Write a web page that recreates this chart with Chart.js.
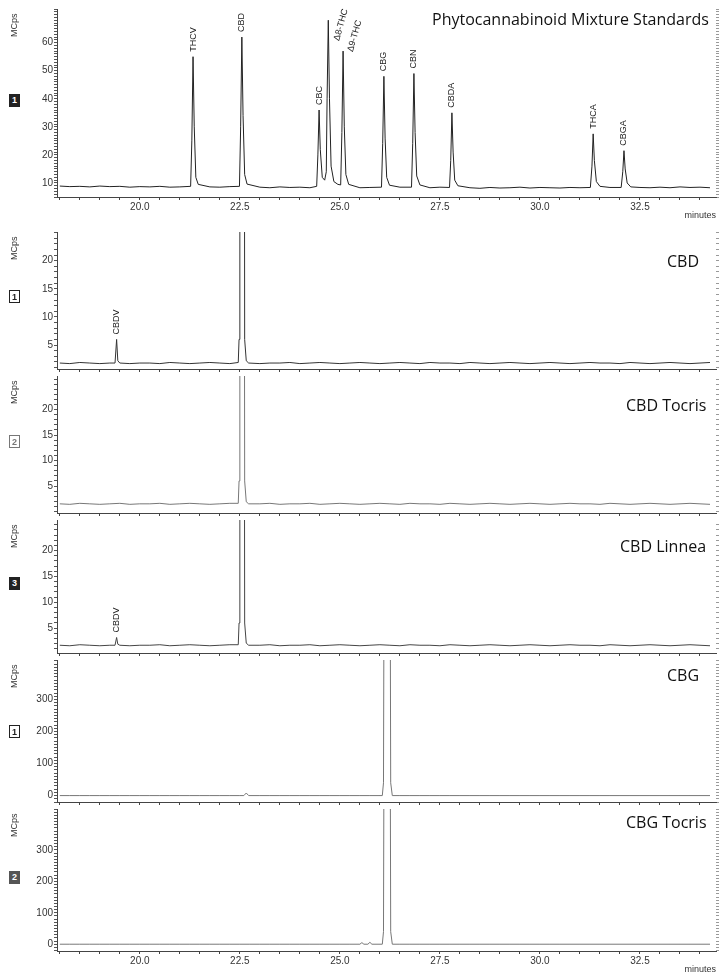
<!DOCTYPE html>
<html><head><meta charset="utf-8">
<script src="https://cdn.jsdelivr.net/npm/chart.js@4.4.0/dist/chart.umd.min.js"></script>
<style>
body{margin:0;background:#fff;width:724px;height:976px;position:relative;overflow:hidden;font-family:"Liberation Sans",Arial,sans-serif}
.p{position:absolute;left:0;width:724px}
.t{position:absolute;font-family:"Open Sans",sans-serif;font-size:16px;color:#111;white-space:nowrap}
.m{position:absolute;left:9px;font-size:9px;color:#333;transform:rotate(-90deg);transform-origin:left top}
.b{position:absolute;left:9px;width:11px;height:13px;font-size:9px;line-height:13px;text-align:center;box-sizing:border-box;font-weight:bold}
</style></head><body>
<script>
// ---- data ----
const baseTimes = []; for (let i = 0; i < 66; i++) baseTimes.push(18 + i * 0.25);
const mixBase = [8.9,8.7,8.8,8.6,8.9,8.7,8.8,8.5,8.7,8.6,8.8,8.5,8.6,8.7,8.4,8.6,8.5,8.7,8.4,8.6,8.5,8.3,8.6,8.4,8.5,8.3,8.6,8.4,8.2,8.5,8.3,8.4,8.6,8.3,8.5,8.2,8.4,8.3,8.5,8.2,8.4,8.3,8.1,8.4,8.2,8.3,8.5,8.2,8.4,8.3,8.2,8.4,8.3,8.5,8.2,8.4,8.3,8.6,8.4,8.3,8.5,8.3,8.6,8.4,8.5,8.3];
const mixPeaks = [[21.27,8.8],[21.30,25],[21.33,55],[21.36,30],[21.40,12],[21.46,9.5],
 [22.49,8.8],[22.52,30],[22.55,62],[22.58,34],[22.62,13],[22.68,9.6],
 [24.42,8.8],[24.45,20],[24.48,36],[24.51,22],[24.56,12],[24.62,11],
 [24.66,14],[24.68,40],[24.71,68],[24.74,40],[24.78,16],[24.85,10.5],[24.95,9.5],
 [25.02,9.3],[25.05,28],[25.08,57],[25.11,30],[25.15,13],[25.22,9.5],
 [26.04,8.5],[26.07,24],[26.10,48],[26.13,26],[26.17,12],[26.24,9.2],
 [26.79,8.5],[26.82,24],[26.85,49],[26.88,28],[26.92,12.5],[27.00,9.3],
 [27.74,8.4],[27.77,18],[27.80,35],[27.83,21],[27.87,11],[27.95,9],
 [31.26,8.4],[31.30,16],[31.33,27.5],[31.36,18],[31.41,10.5],[31.50,8.8],
 [32.03,8.4],[32.07,14],[32.10,21.5],[32.13,15],[32.18,10],[32.27,8.6]];
const mixLabels = [["THCV",21.33,55],["CBD",22.55,62],["CBC",24.48,36],["Δ8-THC",24.92,59],["Δ9-THC",25.26,55],["CBG",26.10,48],["CBN",26.85,49],["CBDA",27.80,35],["THCA",31.33,27.5],["CBGA",32.10,21.5]];

const cbdBase = [1.8,1.7,1.9,1.8,1.7,1.8,1.9,1.7,1.8,1.8,1.7,1.9,1.8,1.7,1.8,1.9,1.8,1.7,1.8,1.9,1.7,1.8,1.8,1.9,1.7,1.8,1.9,1.8,1.7,1.8,1.9,1.8,1.7,1.8,1.9,1.8,1.7,1.9,1.8,1.8,1.7,1.9,1.8,1.7,1.8,1.9,1.8,1.7,1.8,1.9,1.8,1.7,1.8,1.9,1.8,1.8,1.7,1.9,1.8,1.7,1.8,1.9,1.8,1.7,1.8,1.9];
const cbdPeaks = [[19.38,1.8],[19.42,6],[19.45,2.2],[19.50,1.8],[22.46,1.9],[22.48,6],[22.50,150],[22.55,600],[22.60,150],[22.62,6],[22.66,2.2],[22.72,1.8]];
const tocBase = [1.5,1.4,1.6,1.5,1.4,1.5,1.6,1.4,1.5,1.5,1.6,1.4,1.5,1.6,1.5,1.4,1.5,1.6,1.5,1.4,1.5,1.6,1.4,1.5,1.5,1.6,1.4,1.5,1.6,1.5,1.4,1.5,1.6,1.5,1.4,1.6,1.5,1.5,1.4,1.6,1.5,1.4,1.5,1.6,1.5,1.4,1.5,1.6,1.5,1.4,1.5,1.6,1.5,1.5,1.4,1.6,1.5,1.4,1.5,1.6,1.5,1.4,1.5,1.6,1.5,1.4];
const tocPeaks = [[22.46,1.6],[22.48,6],[22.50,150],[22.55,600],[22.60,150],[22.62,6],[22.66,1.9],[22.72,1.5]];
const linBase = [1.7,1.6,1.8,1.7,1.6,1.7,1.8,1.6,1.7,1.7,1.8,1.6,1.7,1.8,1.7,1.6,1.7,1.8,1.7,1.6,1.7,1.8,1.6,1.7,1.7,1.8,1.6,1.7,1.8,1.7,1.6,1.7,1.8,1.7,1.6,1.8,1.7,1.7,1.6,1.8,1.7,1.6,1.7,1.8,1.7,1.6,1.7,1.8,1.7,1.6,1.7,1.8,1.7,1.7,1.6,1.8,1.7,1.6,1.7,1.8,1.7,1.6,1.7,1.8,1.7,1.6];
const linPeaks = [[19.38,1.7],[19.42,3.2],[19.45,1.9],[19.50,1.7],[22.46,1.8],[22.48,6],[22.50,150],[22.55,600],[22.60,150],[22.62,6],[22.66,2.1],[22.72,1.7]];
const cbgBase = [0,0,0,0,0,0,0,0,0,0,0,0,0,0,0,0,0,0,0,0,0,0,0,0,0,0,0,0,0,0,0,0,0,0,0,0,0,0,0,0,0,0,0,0,0,0,0,0,0,0,0,0,0,0,0,0,0,0,0,0,0,0,0,0,0,0];
const cbgPeaks = [[22.60,0],[22.66,8],[22.72,0],[26.06,0],[26.09,40],[26.12,1500],[26.18,3000],[26.24,1500],[26.27,40],[26.31,0]];
const cbgtPeaks = [[25.50,0],[25.55,5],[25.60,0],[25.70,0],[25.75,6],[25.80,0],[26.06,0],[26.09,40],[26.12,1500],[26.18,3000],[26.24,1500],[26.27,40],[26.31,0]];
const xTicks = [20.0,22.5,25.0,27.5,30.0,32.5];
const yTicksMix = [10,20,30,40,50,60];
const yTicksCbd = [5,10,15,20];
const yTicksCbg = [0,100,200,300];

function merge(base, peaks){
  const pts = [];
  baseTimes.forEach((t,i)=>{ if(!peaks.some(p=>Math.abs(p[0]-t)<0.1)) pts.push({x:t,y:base[i]}); });
  peaks.forEach(p=>pts.push({x:p[0],y:p[1]}));
  return pts.sort((a,b)=>a.x-b.x);
}

const panels = [
 {top:5,bot:197,min:5,max:72,step:1,yl:yTicksMix,data:merge(mixBase,mixPeaks),color:'#222',labels:true,title:'Phytocannabinoid Mixture Standards',tx:432,ty:8,badge:'1',bs:'fill',by:94,peakLabels:mixLabels},
 {top:228,bot:371,min:0.74,max:25.1,step:1,yl:yTicksCbd,data:merge(cbdBase,cbdPeaks),color:'#333',labels:false,title:'CBD',tx:667,ty:250,badge:'1',bs:'box',by:290,peakLabels:[["CBDV",19.42,6]]},
 {top:372,bot:515,min:-0.3,max:26.6,step:1,yl:yTicksCbd,data:merge(tocBase,tocPeaks),color:'#777',labels:false,title:'CBD Tocris',tx:626,ty:394,badge:'2',bs:'gbox',by:435,peakLabels:[]},
 {top:516,bot:655,min:0.2,max:25.9,step:1,yl:yTicksCbd,data:merge(linBase,linPeaks),color:'#444',labels:false,title:'CBD Linnea',tx:620,ty:535,badge:'3',bs:'fill',by:577,peakLabels:[["CBDV",19.42,3.2]]},
 {top:656,bot:804,min:-20,max:423,step:10,yl:yTicksCbg,data:merge(cbgBase,cbgPeaks),color:'#777',labels:false,title:'CBG',tx:667,ty:664,badge:'1',bs:'box',by:725,peakLabels:[]},
 {top:805,bot:951,min:-21.6,max:430,step:10,yl:yTicksCbg,data:merge(cbgBase,cbgtPeaks),color:'#777',labels:true,title:'CBG Tocris',tx:626,ty:811,badge:'2',bs:'gfill',by:871,peakLabels:[]}
];

const labelPlugin = {id:'pl',afterDatasetsDraw(c){
  const ctx=c.ctx, xs=c.scales.x, ys=c.scales.y;
  ctx.save(); ctx.font='9px "Liberation Sans", Arial'; ctx.fillStyle='#222'; ctx.textBaseline='middle';
  (c.options.plugins.pl.items||[]).forEach(([s,x,y])=>{
    const px=xs.getPixelForValue(x), py=ys.getPixelForValue(y)-5;
    ctx.save(); ctx.translate(px,py); ctx.rotate(s.startsWith('Δ')?-1.3:-Math.PI/2);
    ctx.textAlign='left'; ctx.fillText(s,0,0); ctx.restore();
  });
  if(c.options.plugins.pl.minutes){ctx.font='9px "Liberation Sans", Arial';ctx.textAlign='right';ctx.fillStyle='#333';ctx.fillText('minutes',716,c.chartArea.bottom+19);}
  ctx.restore();
}};

panels.forEach((p)=>{
  const xh = p.labels?28:5;
  const div=document.createElement('div'); div.className='p';
  div.style.top=(p.top-3)+'px'; div.style.height=(p.bot-p.top+3+xh)+'px';
  const cv=document.createElement('canvas'); div.appendChild(cv); document.body.appendChild(div);
  const yticks = s=>{const t=[];const st=Math.ceil(p.min/p.step)*p.step;for(let v=st;v<=p.max;v+=p.step)t.push({value:Math.round(v*100)/100});s.ticks=t;};
  new Chart(cv,{type:'line',data:{datasets:[{data:p.data,borderColor:p.color,borderWidth:1,pointRadius:0,tension:0}]},
   plugins:[labelPlugin],
   options:{responsive:true,maintainAspectRatio:false,animation:false,layout:{padding:{top:3,left:0,right:0,bottom:0}},
    plugins:{legend:{display:false},tooltip:{enabled:false},pl:{items:p.peakLabels,minutes:p.labels}},
    scales:{
     x:{type:'linear',min:17.93,max:34.4,afterFit:s=>{s.height=xh},
        afterBuildTicks:s=>{const t=[];for(let v=18;v<=34.4;v+=0.5)t.push({value:Math.round(v*10)/10});s.ticks=t;},
        grid:{drawOnChartArea:false,tickLength:3,color:'#444'},border:{color:'#444'},
        ticks:{display:p.labels,autoSkip:false,maxRotation:0,padding:1,color:'#333',font:{size:10,family:'"Liberation Sans", Arial'},
          callback:v=>xTicks.some(t=>Math.abs(t-v)<1e-6)?v.toFixed(1):''}},
     y:{min:p.min,max:p.max,afterFit:s=>{s.width=57},afterBuildTicks:yticks,
        grid:{drawOnChartArea:false,tickLength:3,color:'#555'},border:{color:'#444'},
        ticks:{autoSkip:false,padding:1,color:'#333',font:{size:10,family:'"Liberation Sans", Arial'},
          callback:v=>p.yl.some(t=>Math.abs(t-v)<1e-6)?String(v):''}},
     y2:{position:'right',min:p.min,max:p.max,afterFit:s=>{s.width=8},afterBuildTicks:yticks,
        grid:{drawOnChartArea:false,tickLength:3,color:'#999'},border:{display:false},ticks:{display:false}}
    }}});
  const t=document.createElement('div'); t.className='t'; t.textContent=p.title; t.style.left=p.tx+'px'; t.style.top=p.ty+'px'; document.body.appendChild(t);
  const m=document.createElement('div'); m.className='m'; m.textContent='MCps'; m.style.top=(p.top+32)+'px'; document.body.appendChild(m);
  const b=document.createElement('div'); b.className='b'; b.textContent=p.badge; b.style.top=p.by+'px';
  if(p.bs==='fill'){b.style.background='#222';b.style.color='#fff';}
  else if(p.bs==='gfill'){b.style.background='#555';b.style.color='#fff';}
  else if(p.bs==='box'){b.style.border='1.5px solid #222';b.style.color='#222';}
  else {b.style.border='1.5px solid #777';b.style.color='#777';}
  document.body.appendChild(b);
});
</script>
</body></html>
